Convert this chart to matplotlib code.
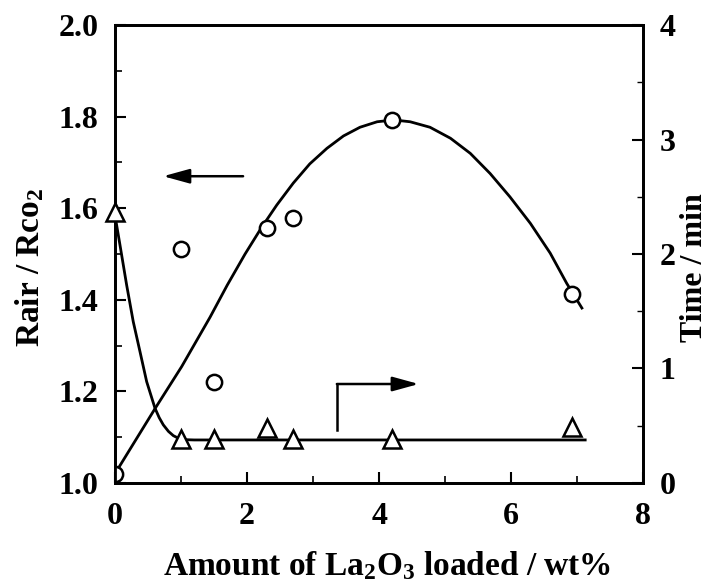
import matplotlib
matplotlib.use("Agg")
import matplotlib.pyplot as plt
from matplotlib.ticker import MultipleLocator

plt.rcParams["font.family"] = "Liberation Serif"
plt.rcParams["font.weight"] = "bold"
plt.rcParams["mathtext.fontset"] = "custom"
plt.rcParams["mathtext.rm"] = "Liberation Serif:bold"
plt.rcParams["mathtext.it"] = "Liberation Serif:bold"
plt.rcParams["mathtext.bf"] = "Liberation Serif:bold"

# Measured points: resistance ratio (left axis)
ratio_x = [0.0, 1.0, 1.5, 2.3, 2.7, 4.2, 6.92]
ratio_y = [1.02, 1.51, 1.22, 1.557, 1.578, 1.793, 1.412]

# Measured points: response time (right axis)
time_x = [0.0, 1.0, 1.5, 2.3, 2.7, 4.2, 6.92]
time_y = [2.37, 0.38, 0.38, 0.48, 0.38, 0.38, 0.49]

# Hand-drawn trend curves
ratio_fit_x = [0.0, 0.61, 1.01, 1.44, 1.70, 1.97, 2.22, 2.45, 2.70, 2.95, 3.21, 3.46, 3.71,
               3.97, 4.22, 4.47, 4.77, 5.08, 5.38, 5.68, 5.98, 6.29, 6.59, 6.84, 7.07]
ratio_fit_y = [1.02, 1.163, 1.254, 1.362, 1.432, 1.500, 1.558, 1.607, 1.655, 1.697, 1.731,
               1.758, 1.777, 1.789, 1.793, 1.789, 1.777, 1.753, 1.720, 1.676, 1.625, 1.567,
               1.502, 1.436, 1.382]

time_fit_x = [0.0, 0.076, 0.177, 0.277, 0.379, 0.480, 0.606, 0.67, 0.732, 0.81, 0.883,
              0.96, 1.035, 1.2, 7.12]
time_fit_y = [2.34, 2.079, 1.729, 1.409, 1.147, 0.885, 0.653, 0.57, 0.507, 0.45, 0.413,
              0.39, 0.378, 0.375, 0.375]

fig = plt.figure(figsize=(7.14, 5.86), dpi=100)
ax = fig.add_axes([0.161, 0.176, 0.740, 0.781])
ax2 = ax.twinx()

ax.plot(ratio_fit_x, ratio_fit_y, color="black", lw=2, zorder=2, solid_joinstyle="round")
ax.plot(ratio_x, ratio_y, "o", ms=11, mfc="white", mec="black", mew=1.8, ls="none", zorder=3)
ax2.plot(time_fit_x, time_fit_y, color="black", lw=2, zorder=2, solid_joinstyle="round")
ax2.plot(time_x, time_y, "^", ms=13, mfc="white", mec="black", mew=1.8, ls="none", zorder=3,
         clip_on=False)

ax.set_xlim(0, 8)
ax.set_ylim(1.0, 2.0)
ax2.set_ylim(0, 4)

ax.xaxis.set_major_locator(MultipleLocator(2))
ax.xaxis.set_minor_locator(MultipleLocator(1))
ax.yaxis.set_major_locator(MultipleLocator(0.2))
ax.yaxis.set_minor_locator(MultipleLocator(0.1))
ax2.yaxis.set_major_locator(MultipleLocator(1))
ax2.yaxis.set_minor_locator(MultipleLocator(0.5))
ax.yaxis.set_major_formatter(plt.FormatStrFormatter("%.1f"))

for a in (ax, ax2):
    for s in a.spines.values():
        s.set_linewidth(2)
ax.tick_params(which="major", direction="in", length=8, width=1.5, labelsize=23, pad=12,
               top=False, right=False)
ax.tick_params(which="minor", direction="in", length=5, width=1.2, top=False, right=False)
ax.tick_params(axis="x", which="major", pad=14)
ax2.tick_params(which="major", direction="in", length=8, width=1.5, labelsize=23, pad=12)
ax2.tick_params(which="minor", direction="in", length=4, width=1.0)

ax.set_xlabel("Amount of La$_2$O$_3$ loaded / wt%", fontsize=24, fontweight="bold")
ax.set_ylabel("Rair / Rco$_2$", fontsize=24, fontweight="bold")
ax2.set_ylabel("Time / min", fontsize=23, fontweight="bold")
ax.xaxis.set_label_coords(0.515, -0.145)
ax.yaxis.set_label_coords(-0.131, 0.47)
ax2.yaxis.set_label_coords(1.07, 0.47)

# Arrows marking which axis each curve belongs to
arrow_style = "-|>,head_length=0.8,head_width=0.22"
ax.annotate("", xy=(0.73, 1.67), xytext=(1.94, 1.67),
            arrowprops=dict(arrowstyle=arrow_style, color="black", lw=1.8,
                            mutation_scale=20, shrinkA=0, shrinkB=0))
ax.plot([3.36, 3.36], [1.116, 1.216], color="black", lw=1.8)
ax.annotate("", xy=(4.60, 1.216), xytext=(3.36, 1.216),
            arrowprops=dict(arrowstyle=arrow_style, color="black", lw=1.8,
                            mutation_scale=20, shrinkA=0, shrinkB=0))

fig.savefig("out.png", dpi=100)
